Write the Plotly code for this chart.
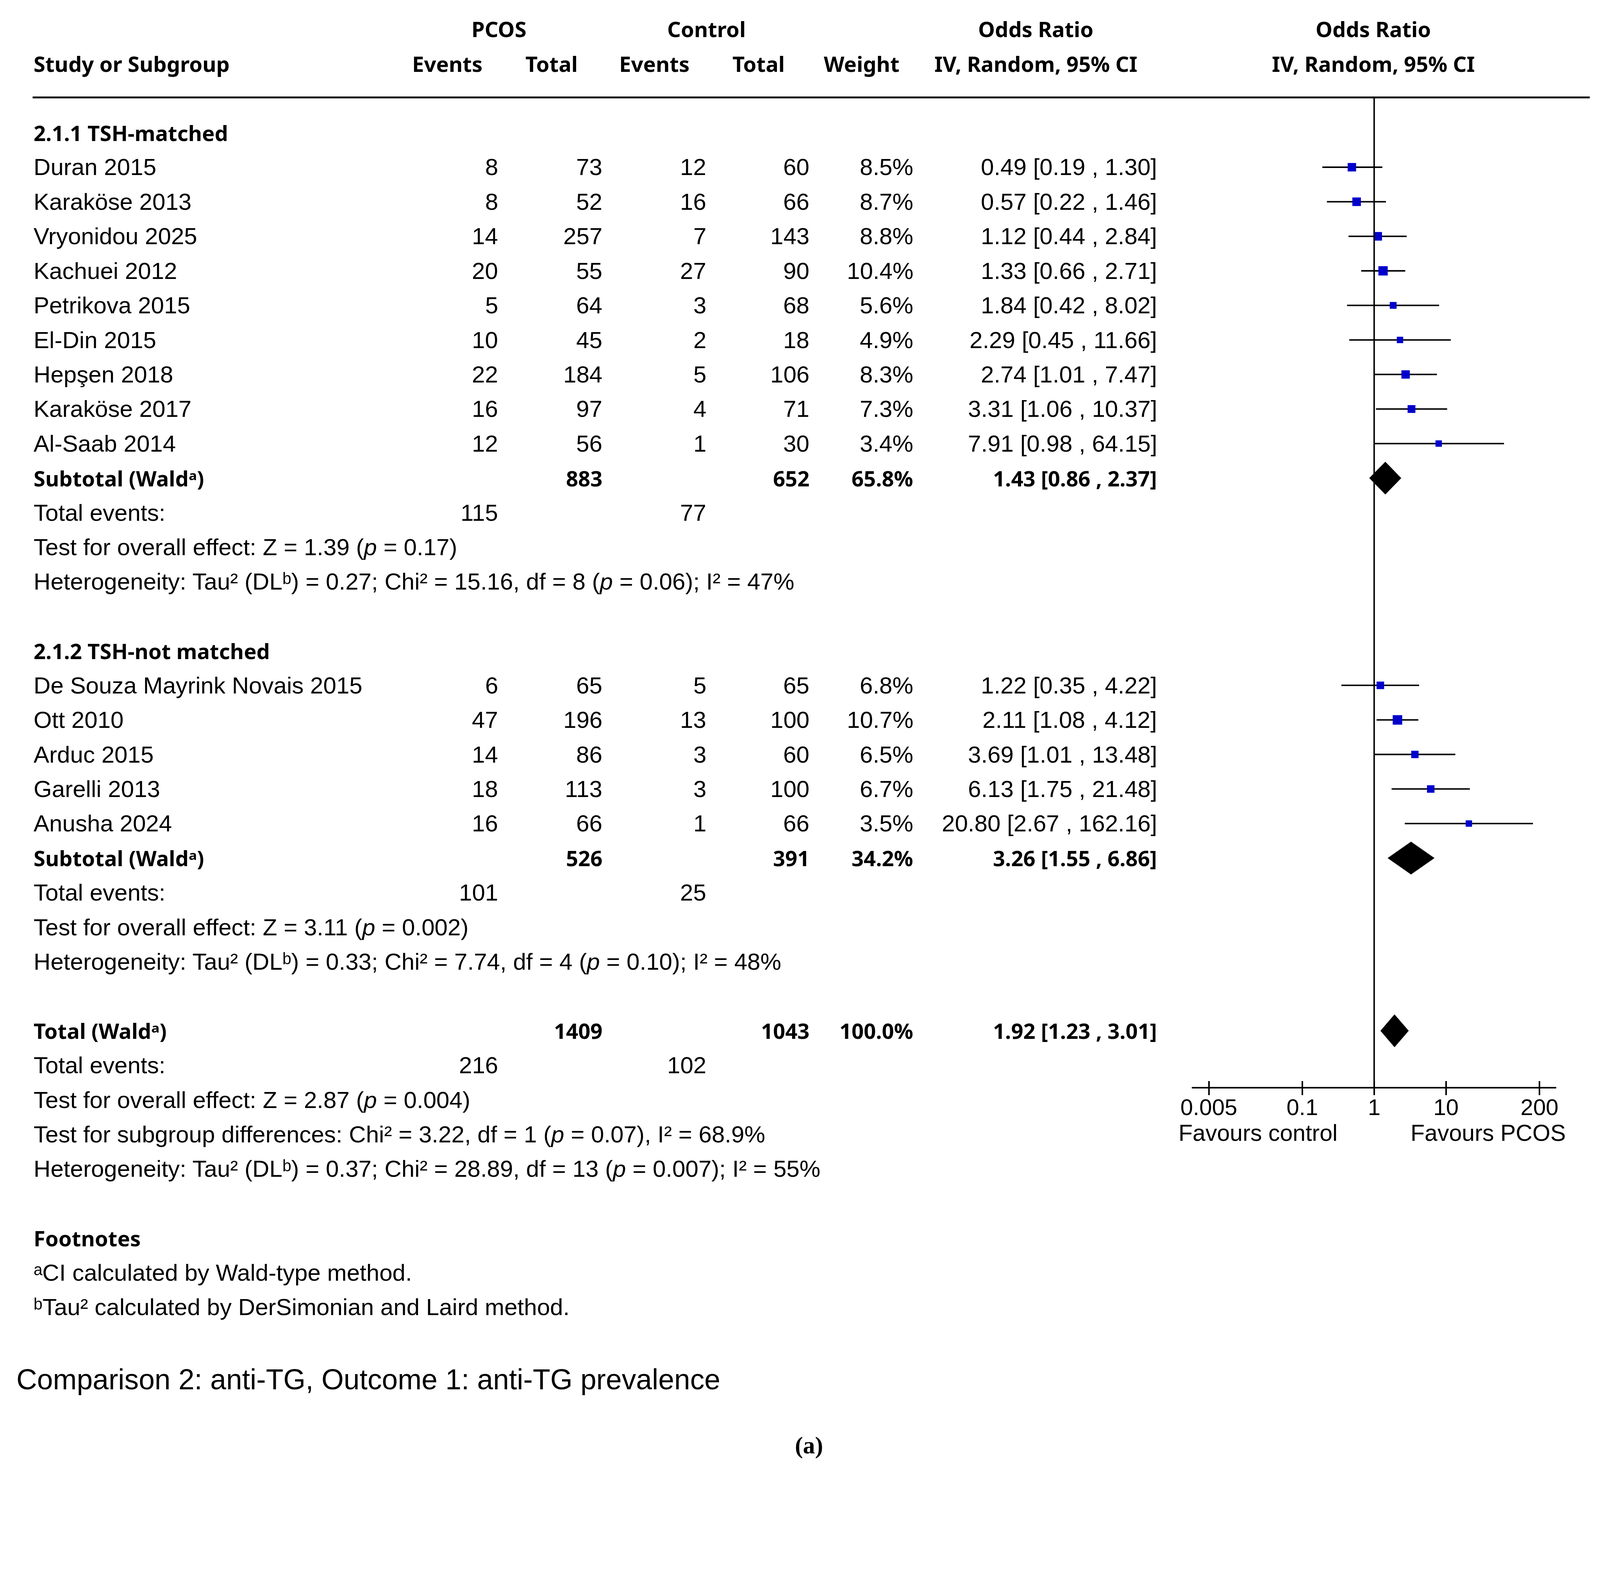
import plotly.graph_objects as go

# ---------------- data ----------------
group_titles = ["2.1.1 TSH-matched", "2.1.2 TSH-not matched"]

studies1 = ["Duran 2015", "Karaköse 2013", "Vryonidou 2025", "Kachuei 2012", "Petrikova 2015",
            "El-Din 2015", "Hepşen 2018", "Karaköse 2017", "Al-Saab 2014"]
pcos_events1 = [8, 8, 14, 20, 5, 10, 22, 16, 12]
pcos_total1 = [73, 52, 257, 55, 64, 45, 184, 97, 56]
ctrl_events1 = [12, 16, 7, 27, 3, 2, 5, 4, 1]
ctrl_total1 = [60, 66, 143, 90, 68, 18, 106, 71, 30]
weight1 = [8.5, 8.7, 8.8, 10.4, 5.6, 4.9, 8.3, 7.3, 3.4]
or1 = [0.49, 0.57, 1.12, 1.33, 1.84, 2.29, 2.74, 3.31, 7.91]
lo1 = [0.19, 0.22, 0.44, 0.66, 0.42, 0.45, 1.01, 1.06, 0.98]
hi1 = [1.30, 1.46, 2.84, 2.71, 8.02, 11.66, 7.47, 10.37, 64.15]

studies2 = ["De Souza Mayrink Novais 2015", "Ott 2010", "Arduc 2015", "Garelli 2013", "Anusha 2024"]
pcos_events2 = [6, 47, 14, 18, 16]
pcos_total2 = [65, 196, 86, 113, 66]
ctrl_events2 = [5, 13, 3, 3, 1]
ctrl_total2 = [65, 100, 60, 100, 66]
weight2 = [6.8, 10.7, 6.5, 6.7, 3.5]
or2 = [1.22, 2.11, 3.69, 6.13, 20.80]
lo2 = [0.35, 1.08, 1.01, 1.75, 2.67]
hi2 = [4.22, 4.12, 13.48, 21.48, 162.16]

sub_pcos_total = [883, 526]
sub_ctrl_total = [652, 391]
sub_weight = [65.8, 34.2]
sub_or = [1.43, 3.26]
sub_lo = [0.86, 1.55]
sub_hi = [2.37, 6.86]
sub_pcos_events = [115, 101]
sub_ctrl_events = [77, 25]
sub_tests = ["Test for overall effect: Z = 1.39 (<i>p</i> = 0.17)",
             "Test for overall effect: Z = 3.11 (<i>p</i> = 0.002)"]
sub_het = ["Heterogeneity: Tau² (DLᵇ) = 0.27; Chi² = 15.16, df = 8 (<i>p</i> = 0.06); I² = 47%",
           "Heterogeneity: Tau² (DLᵇ) = 0.33; Chi² = 7.74, df = 4 (<i>p</i> = 0.10); I² = 48%"]

tot_pcos_total = 1409
tot_ctrl_total = 1043
tot_weight = 100.0
tot_or, tot_lo, tot_hi = 1.92, 1.23, 3.01
tot_pcos_events = 216
tot_ctrl_events = 102
tot_lines = ["Test for overall effect: Z = 2.87 (<i>p</i> = 0.004)",
             "Test for subgroup differences: Chi² = 3.22, df = 1 (<i>p</i> = 0.07), I² = 68.9%",
             "Heterogeneity: Tau² (DLᵇ) = 0.37; Chi² = 28.89, df = 13 (<i>p</i> = 0.007); I² = 55%"]

footnotes = ["ᵃCI calculated by Wald-type method.",
             "ᵇTau² calculated by DerSimonian and Laird method."]
subtotal_label = "Subtotal (Waldᵃ)"
total_label = "Total (Waldᵃ)"
caption = "Comparison 2: anti-TG, Outcome 1: anti-TG prevalence"
panel_label = "(a)"

tick_vals = [0.005, 0.1, 1, 10, 200]
tick_text = ["0.005", "0.1", "1", "10", "200"]
favours = ["Favours control", "Favours PCOS"]

# ---------------- layout geometry ----------------
# geometry is measured in reference-image pixels (4364 x 4021); the page is laid out
# in CSS pixels on a 4096-wide viewport, so absolute sizes are scaled by F.
W, H = 4364, 4021
F = 4096 / 4364
FIG_W, FIG_H = 4096, int(H * F)

ROW_PX = 94.2
ROW0_PX = 361.8
Y_TOP = -ROW0_PX / ROW_PX
Y_BOT = (H - ROW0_PX) / ROW_PX
AXIS_ROW = 27.65
X_LOG_RANGE = [-2.536, 2.536]
X_DOMAIN = [3251 / W, 4245 / W]

BODY = "Liberation Sans"
BOLD = "Noto Sans"
BODY_SIZE = 64
BOLD_SIZE = 58

C_LEFT = 89
C_PE, C_PT, C_CE, C_CT, C_W, C_OR = 1361, 1645, 1928, 2210, 2493, 3158


def px(x):
    return x / W


def S(v):
    return round(v * F, 1)


annotations = []


def add_text(x, row, s, anchor="left", bold=False, size=None, family=None):
    fam = family or (BOLD if bold else BODY)
    sz = size or (BOLD_SIZE if bold else BODY_SIZE)
    annotations.append(dict(
        x=px(x), y=row, xref="paper", yref="y", text=s, showarrow=False,
        xanchor=anchor, yanchor="middle", align=anchor,
        font=dict(family=fam, size=S(sz), color="black", weight=700 if bold else 400)))


def fmt_ci(o, l, h):
    return f"{o:.2f} [{l:.2f} , {h:.2f}]"


# headers
add_text(1361, -3, "PCOS", "center", bold=True)
add_text(1927, -3, "Control", "center", bold=True)
add_text(2825, -3, "Odds Ratio", "center", bold=True)
add_text(3746, -3, "Odds Ratio", "center", bold=True)
add_text(C_LEFT, -2, "Study or Subgroup", "left", bold=True)
add_text(1220, -2, "Events", "center", bold=True)
add_text(1504, -2, "Total", "center", bold=True)
add_text(1785, -2, "Events", "center", bold=True)
add_text(2069, -2, "Total", "center", bold=True)
add_text(2350, -2, "Weight", "center", bold=True)
add_text(2825, -2, "IV, Random, 95% CI", "center", bold=True)
add_text(3746, -2, "IV, Random, 95% CI", "center", bold=True)

groups = [
    (studies1, pcos_events1, pcos_total1, ctrl_events1, ctrl_total1, weight1, or1, lo1, hi1),
    (studies2, pcos_events2, pcos_total2, ctrl_events2, ctrl_total2, weight2, or2, lo2, hi2),
]
group_start = [0, 15]

ci_x, ci_y = [], []
sq_x, sq_y, sq_s = [], [], []
diamonds = []

for g, (names, pe, pt, ce, ct, w, o, lo, hi) in enumerate(groups):
    r0 = group_start[g]
    add_text(C_LEFT, r0, group_titles[g], bold=True)
    for i in range(len(names)):
        r = r0 + 1 + i
        add_text(C_LEFT, r, names[i])
        add_text(C_PE, r, str(pe[i]), "right")
        add_text(C_PT, r, str(pt[i]), "right")
        add_text(C_CE, r, str(ce[i]), "right")
        add_text(C_CT, r, str(ct[i]), "right")
        add_text(C_W, r, f"{w[i]:.1f}%", "right")
        add_text(C_OR, r, fmt_ci(o[i], lo[i], hi[i]), "right")
        ci_x += [lo[i], hi[i], None]
        ci_y += [r, r, None]
        sq_x.append(o[i])
        sq_y.append(r)
        sq_s.append(S(max(17.5, 7.9 * w[i] ** 0.5)))
    rs = r0 + 1 + len(names)
    add_text(C_LEFT, rs, subtotal_label, bold=True)
    add_text(C_PT, rs, str(sub_pcos_total[g]), "right", bold=True)
    add_text(C_CT, rs, str(sub_ctrl_total[g]), "right", bold=True)
    add_text(C_W, rs, f"{sub_weight[g]:.1f}%", "right", bold=True)
    add_text(C_OR, rs, fmt_ci(sub_or[g], sub_lo[g], sub_hi[g]), "right", bold=True)
    diamonds.append((sub_or[g], sub_lo[g], sub_hi[g], rs))
    add_text(C_LEFT, rs + 1, "Total events:")
    add_text(C_PE, rs + 1, str(sub_pcos_events[g]), "right")
    add_text(C_CE, rs + 1, str(sub_ctrl_events[g]), "right")
    add_text(C_LEFT, rs + 2, sub_tests[g])
    add_text(C_LEFT, rs + 3, sub_het[g])

rt = 26
add_text(C_LEFT, rt, total_label, bold=True)
add_text(C_PT, rt, str(tot_pcos_total), "right", bold=True)
add_text(C_CT, rt, str(tot_ctrl_total), "right", bold=True)
add_text(C_W, rt, f"{tot_weight:.1f}%", "right", bold=True)
add_text(C_OR, rt, fmt_ci(tot_or, tot_lo, tot_hi), "right", bold=True)
diamonds.append((tot_or, tot_lo, tot_hi, rt))
add_text(C_LEFT, rt + 1, "Total events:")
add_text(C_PE, rt + 1, str(tot_pcos_events), "right")
add_text(C_CE, rt + 1, str(tot_ctrl_events), "right")
for k, line in enumerate(tot_lines):
    add_text(C_LEFT, rt + 2 + k, line)

add_text(C_LEFT, 32, "Footnotes", bold=True)
add_text(C_LEFT, 33, footnotes[0])
add_text(C_LEFT, 34, footnotes[1])
add_text(43, 36.1, caption, size=78)
add_text(2207, 38.0, panel_label, "center", bold=True, size=66, family="Liberation Serif")

add_text(3431, 28.95, favours[0], "center", size=63)
add_text(4059, 28.95, favours[1], "center", size=63)

# ---------------- traces ----------------
fig = go.Figure()

fig.add_trace(go.Scatter(x=ci_x, y=ci_y, mode="lines", line=dict(color="black", width=S(4)),
                         hoverinfo="skip", xaxis="x", yaxis="y"))
fig.add_trace(go.Scatter(x=sq_x, y=sq_y, mode="markers",
                         marker=dict(symbol="square", size=sq_s, color="#0000CC", opacity=1,
                                     line=dict(width=0)),
                         xaxis="x", yaxis="y"))
DH = 0.47
for (o, l, h, r) in diamonds:
    fig.add_trace(go.Scatter(x=[l, o, h, o, l], y=[r, r - DH, r, r + DH, r], mode="lines",
                             fill="toself", fillcolor="black", line=dict(color="black", width=S(1)),
                             hoverinfo="skip", xaxis="x", yaxis="y"))
# line of no effect (OR = 1)
fig.add_trace(go.Scatter(x=[1, 1], y=[-1.02, AXIS_ROW], mode="lines",
                         line=dict(color="black", width=S(4)), hoverinfo="skip",
                         xaxis="x2", yaxis="y"))

axis_pos = 1 - (AXIS_ROW - Y_TOP) / (Y_BOT - Y_TOP)

fig.update_layout(
    width=FIG_W, height=FIG_H,
    margin=dict(l=0, r=0, t=0, b=0, pad=0, autoexpand=False),
    paper_bgcolor="white", plot_bgcolor="white",
    showlegend=False,
    xaxis=dict(type="log", range=X_LOG_RANGE, domain=X_DOMAIN, anchor="free", position=axis_pos,
               automargin=False,
               showline=True, linecolor="black", linewidth=S(4),
               ticks="outside", ticklen=S(18), tickwidth=S(4), tickcolor="black",
               tickmode="array", tickvals=tick_vals, ticktext=tick_text,
               tickfont=dict(family=BODY, size=S(62), color="black"),
               ticklabelstandoff=round(-20 * F),
               showgrid=False, zeroline=False),
    xaxis2=dict(type="log", range=X_LOG_RANGE, overlaying="x", anchor="free", position=axis_pos,
                automargin=False,
                showline=False, ticks="inside", ticklen=S(18), tickwidth=S(4), tickcolor="black",
                tickmode="array", tickvals=tick_vals, showticklabels=False,
                showgrid=False, zeroline=False, side="bottom"),
    yaxis=dict(range=[Y_BOT, Y_TOP], domain=[0, 1], visible=False, automargin=False,
               showgrid=False, zeroline=False),
    annotations=annotations,
    shapes=[dict(type="line", xref="paper", yref="y", x0=px(89), x1=px(4336), y0=-1.02, y1=-1.02,
                 line=dict(color="black", width=S(5)))],
)

fig.write_html("out.html", config={"displayModeBar": False},
               post_script="document.body.style.margin='0';")
